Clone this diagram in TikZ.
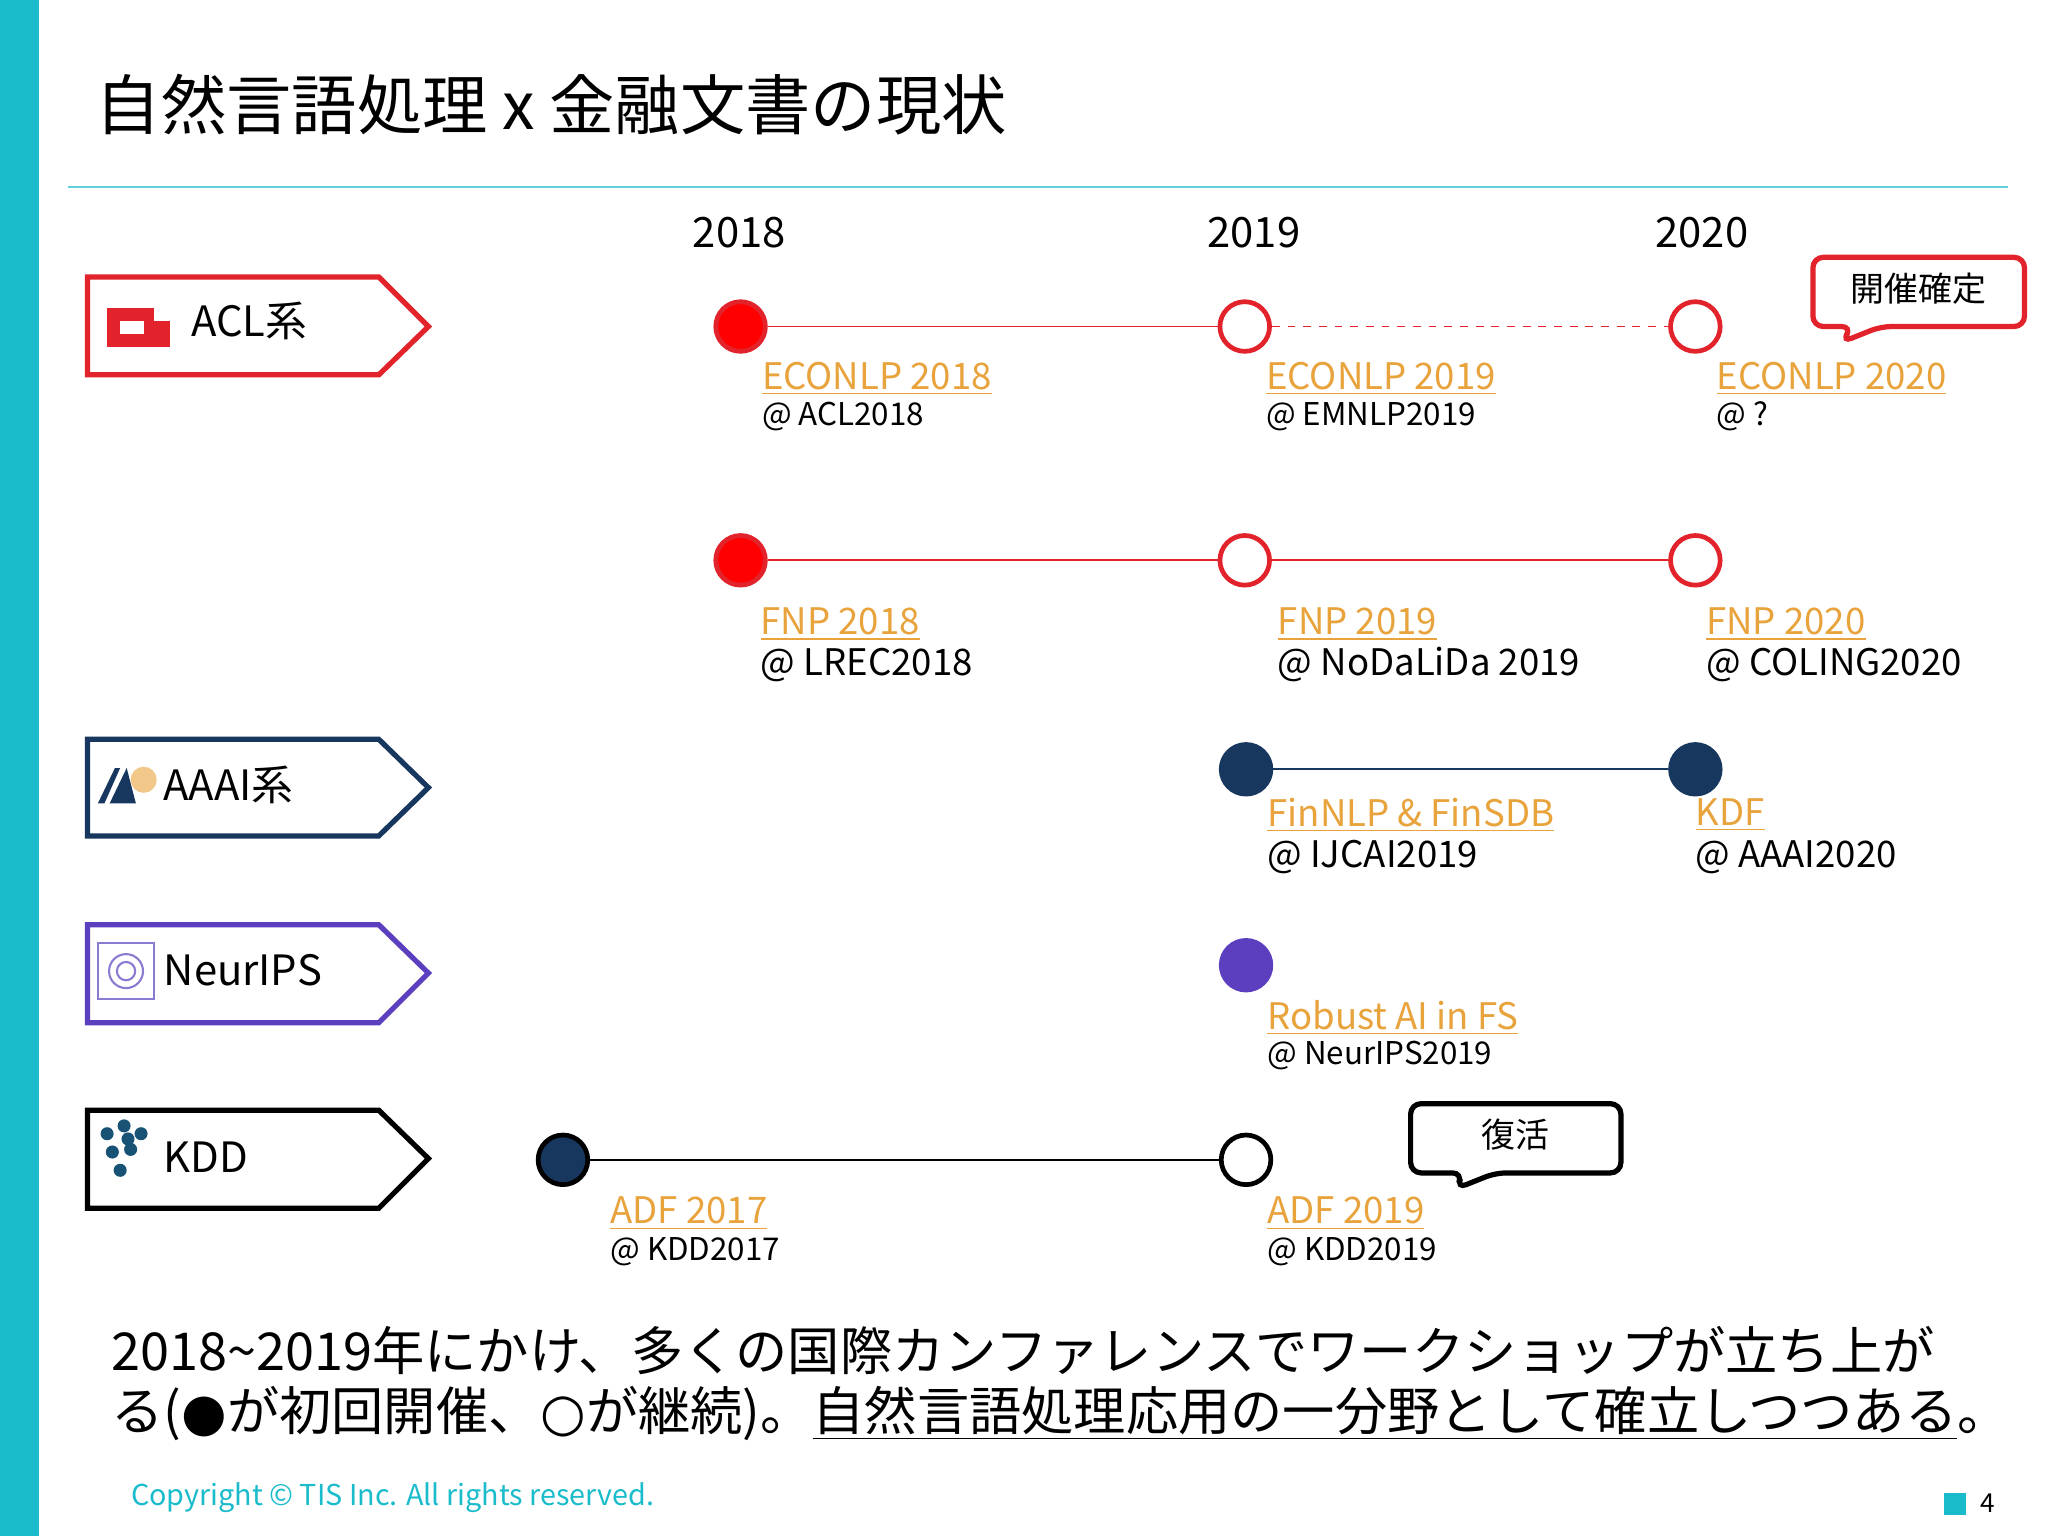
\documentclass[tikz,border=0pt]{standalone}
\usepackage{fontspec}
\setmainfont{Noto Sans CJK JP}
\usetikzlibrary{calc}
\definecolor{teal}{HTML}{1ABCCB}
\definecolor{accred}{HTML}{E3232B}
\definecolor{aaablue}{HTML}{17375E}
\definecolor{nipsp}{HTML}{5B3FBF}
\definecolor{linko}{HTML}{E8A33C}
\begin{document}
\begin{tikzpicture}[x=0.5pt,y=-0.5pt,
  tag/.style={line width=2pt},
  dot/.style={circle,minimum size=19pt,inner sep=0pt,line width=1.8pt},
  lnk/.style={anchor=west,text=linko,font=\fontsize{14}{16}\selectfont,inner sep=0pt},
  at1/.style={anchor=west,font=\fontsize{12}{14}\selectfont,inner sep=0pt},
  at2/.style={anchor=west,font=\fontsize{14}{16}\selectfont,inner sep=0pt},
  yr/.style={font=\fontsize{16}{18}\selectfont},
  tagtxt/.style={anchor=west,font=\fontsize{16}{18}\selectfont,inner sep=0pt}]
\useasboundingbox (0,0) rectangle (1568,1176);
\fill[white] (0,0) rectangle (1568,1176);
\fill[teal] (0,0) rectangle (30,1176);
\node[anchor=west,inner sep=0pt,font=\fontsize{25}{28}\selectfont] (title) at (73,80) {自然言語処理 x 金融文書の現状};
\draw[teal!70,line width=0.6pt] (52,143) -- (1537,143);
\node[yr] (y18) at (566,178) {2018};
\node[yr] (y19) at (960,178) {2019};
\node[yr] (y20) at (1303,178) {2020};
% tags
\draw[tag,accred] (67,212) -- (290,212) -- (328,250) -- (290,287) -- (67,287) -- cycle;
\fill[accred] (82,236) rectangle (130,266);
\fill[white] (92,246) rectangle (110,256);
\fill[white] (118,230) rectangle (130,246);
\node[tagtxt] (acl) at (146,246) {ACL系};
\draw[tag,aaablue] (67,566) -- (290,566) -- (328,603) -- (290,640) -- (67,640) -- cycle;
\fill[aaablue] (75,615) -- (88,588) -- (92,588) -- (80,615) -- cycle;
\fill[aaablue] (84,615) -- (97,588) -- (104,615) -- cycle;
\fill[linko!60] (110,597) circle (10);
\node[tagtxt] (aaai) at (125,601) {AAAI系};
\draw[tag,nipsp] (67,708) -- (290,708) -- (328,745) -- (290,783) -- (67,783) -- cycle;
\draw[nipsp!70,line width=0.8pt] (75,722) rectangle (118,765);
\draw[nipsp!70,line width=0.8pt] (96.5,743.5) circle (13);
\draw[nipsp!70,line width=0.8pt] (96.5,743.5) circle (7);
\node[tagtxt] (nips) at (125,743) {NeurIPS};
\draw[tag,black] (67,850) -- (290,850) -- (328,887) -- (290,925) -- (67,925) -- cycle;
\foreach \p in {(82,868),(95,862),(108,868),(86,882),(100,880),(92,896),(98,872)}
  \fill[aaablue!80!teal] \p circle (5);
\node[tagtxt] (kdd) at (125,886) {KDD};
% ACL row 1
\node[dot,draw=accred,fill=red] (e18) at (567,250) {};
\node[dot,draw=accred,fill=white] (e19) at (953,250) {};
\node[dot,draw=accred,fill=white] (e20) at (1298,250) {};
\draw[accred,line width=0.7pt] (e18) -- (e19);
\draw[accred,line width=0.7pt,dashed] (e19) -- (e20);
\node[lnk] (le18) at (583,290) {\underline{ECONLP 2018}};
\node[at1] (ae18) at (583,319) {@ ACL2018};
\node[lnk] (le19) at (969,290) {\underline{ECONLP 2019}};
\node[at1] (ae19) at (969,319) {@ EMNLP2019};
\node[lnk] (le20) at (1314,290) {\underline{ECONLP 2020}};
\node[at1] (ae20) at (1314,319) {@ ?};
% callout
\draw[accred,line width=2pt,rounded corners=4pt] (1388,197) -- (1550,197) -- (1550,250) -- (1440,250) -- (1410,262) -- (1418,250) -- (1388,250) -- cycle;
\node[font=\fontsize{13}{15}\selectfont] (kk) at (1469,221) {開催確定};
% FNP row
\node[dot,draw=accred,fill=red] (f18) at (567,429) {};
\node[dot,draw=accred,fill=white] (f19) at (953,429) {};
\node[dot,draw=accred,fill=white] (f20) at (1298,429) {};
\draw[accred,line width=0.7pt] (f18) -- (f19) -- (f20);
\node[lnk] (lf18) at (582,478) {\underline{FNP 2018}};
\node[at2] (af18) at (582,509) {@ LREC2018};
\node[lnk] (lf19) at (978,478) {\underline{FNP 2019}};
\node[at2] (af19) at (978,509) {@ NoDaLiDa 2019};
\node[lnk] (lf20) at (1306,478) {\underline{FNP 2020}};
\node[at2] (af20) at (1306,509) {@ COLING2020};
% AAAI row
\node[dot,draw=aaablue,fill=aaablue] (a19) at (954,589) {};
\node[dot,draw=aaablue,fill=aaablue] (a20) at (1298,589) {};
\draw[aaablue,line width=0.7pt] (a19) -- (a20);
\node[lnk] (la19) at (970,624) {\underline{FinNLP \& FinSDB}};
\node[at2] (aa19) at (970,656) {@ IJCAI2019};
\node[lnk] (la20) at (1298,624) {\underline{KDF}};
\node[at2] (aa20) at (1298,656) {@ AAAI2020};
% NeurIPS
\node[dot,draw=nipsp,fill=nipsp] (n19) at (954,739) {};
\node[lnk] (ln19) at (970,779) {\underline{Robust AI in FS}};
\node[at1] (an19) at (970,808) {@ NeurIPS2019};
% KDD
\node[dot,draw=black,fill=aaablue] (k17) at (431,888) {};
\node[dot,draw=black,fill=white] (k19) at (954,888) {};
\draw[black,line width=0.7pt] (k17) -- (k19);
\node[lnk] (lk17) at (467,929) {\underline{ADF 2017}};
\node[at1] (ak17) at (467,958) {@ KDD2017};
\node[lnk] (lk19) at (970,929) {\underline{ADF 2019}};
\node[at1] (ak19) at (970,958) {@ KDD2019};
\draw[black,line width=2pt,rounded corners=4pt] (1080,845) -- (1241,845) -- (1241,898) -- (1145,898) -- (1115,910) -- (1120,898) -- (1080,898) -- cycle;
\node[font=\fontsize{13}{15}\selectfont] (fk) at (1160,869) {復活};
% bottom text
\node[anchor=west,inner sep=0pt,font=\fontsize{20}{24}\selectfont] (b1) at (85,1034) {2018\textasciitilde2019年にかけ、多くの国際カンファレンスでワークショップが立ち上が};
\node[anchor=west,inner sep=0pt,font=\fontsize{20}{24}\selectfont] (b2) at (85,1082) {る({\fontspec{DejaVu Sans}●}が初回開催、{\fontspec{DejaVu Sans}○}が継続)。\underline{自然言語処理応用の一分野として確立しつつある}。};
\node[anchor=west,inner sep=0pt,text=teal,font=\fontsize{11}{13}\selectfont] (cp) at (100,1147) {Copyright © TIS Inc. All rights reserved.};
\fill[teal] (1488,1143) rectangle (1505,1160);
\node[anchor=west,inner sep=0pt,font=\fontsize{10}{12}\selectfont] (pg) at (1516,1151) {4};
\end{tikzpicture}
\end{document}
